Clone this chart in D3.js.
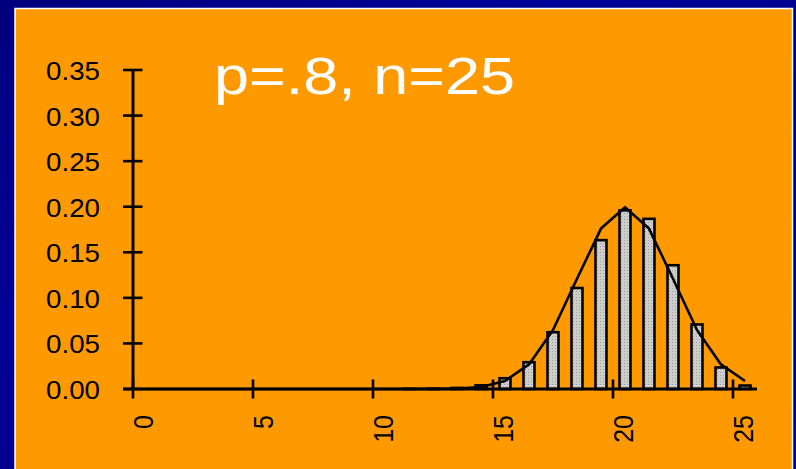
<!DOCTYPE html>
<html>
<head>
<meta charset="utf-8">
<script src="https://cdn.jsdelivr.net/npm/d3@7"></script>
<style>
  html, body { margin: 0; padding: 0; background: #000090; }
  svg { display: block; }
</style>
</head>
<body>
<svg id="chart" width="796" height="469"></svg>
<script>
// Binomial distribution, p = .8, n = 25, with its normal approximation
const successes = d3.range(0, 26);
const binomialProb = [0, 0, 0, 0, 0, 0, 0, 0, 0, 0, 0, 0.0001, 0.0003, 0.0012, 0.0040,
  0.0118, 0.0294, 0.0623, 0.1108, 0.1633, 0.1960, 0.1867, 0.1358, 0.0708, 0.0236, 0.0038];
const normalCurve = [0, 0, 0, 0, 0, 0, 0, 0, 0, 0, 0, 0, 0.0001, 0.0004, 0.0022,
  0.0088, 0.0270, 0.0648, 0.1210, 0.1760, 0.1995, 0.1760, 0.1210, 0.0648, 0.0270, 0.0088];
const yTicks = [0, 0.05, 0.10, 0.15, 0.20, 0.25, 0.30, 0.35];
const xTicks = [0, 5, 10, 15, 20, 25];
const titleText = "p=.8, n=25";

const svg = d3.select("#chart");
const W = 796, H = 469;
const FONT = "'Liberation Sans', Arial, sans-serif";

// Slide background: deep blue with soft diagonal shading
const defs = svg.append("defs");
const bg = defs.append("linearGradient").attr("id", "bg")
  .attr("x1", "0").attr("y1", "0").attr("x2", "1").attr("y2", "1");
bg.append("stop").attr("offset", "0").attr("stop-color", "#00007e");
bg.append("stop").attr("offset", "0.35").attr("stop-color", "#000098");
bg.append("stop").attr("offset", "0.6").attr("stop-color", "#00008c");
bg.append("stop").attr("offset", "1").attr("stop-color", "#00009c");
svg.append("rect").attr("width", W).attr("height", H).attr("fill", "url(#bg)");

// Stippled grey fill for the bars
const pat = defs.append("pattern").attr("id", "stipple")
  .attr("width", 3).attr("height", 3).attr("patternUnits", "userSpaceOnUse");
pat.append("rect").attr("width", 3).attr("height", 3).attr("fill", "#d2d2d2");
pat.append("rect").attr("x", 0).attr("y", 0).attr("width", 1).attr("height", 1).attr("fill", "#9a9a9a");
pat.append("rect").attr("x", 1.5).attr("y", 1.5).attr("width", 1).attr("height", 1).attr("fill", "#b4b4b4");

// Orange panel
svg.append("rect").attr("x", 15).attr("y", 8.5).attr("width", 777.5).attr("height", 470)
  .attr("fill", "#ff9900").attr("stroke", "#ffffff").attr("stroke-width", 1.5);

// Scales
const x = d3.scaleLinear().domain([0, 26]).range([133, 757]);
const y = d3.scaleLinear().domain([0, 0.35]).range([389, 70]);
const barW = 11;

// Title
svg.append("text")
  .attr("x", 214).attr("y", 93.5)
  .attr("font-family", FONT).attr("font-size", 51).attr("fill", "#ffffff")
  .attr("textLength", 301).attr("lengthAdjust", "spacingAndGlyphs")
  .text(titleText);

// Bars
svg.append("g").selectAll("rect").data(successes).join("rect")
  .attr("x", d => x(d + 0.5) - barW / 2)
  .attr("y", (d, i) => y(binomialProb[i]))
  .attr("width", barW)
  .attr("height", (d, i) => y(0) - y(binomialProb[i]))
  .attr("fill", "url(#stipple)")
  .attr("stroke", "#000").attr("stroke-width", 2.6);

// Normal approximation curve
const line = d3.line().x(d => x(d + 0.5)).y((d, i) => y(normalCurve[i]));
svg.append("path").datum(successes).attr("d", line)
  .attr("fill", "none").attr("stroke", "#000").attr("stroke-width", 2.6)
  .attr("stroke-linejoin", "round");

// Y axis
const yAxis = svg.append("g");
yAxis.append("line").attr("x1", x(0)).attr("x2", x(0)).attr("y1", y(0.35)).attr("y2", y(0))
  .attr("stroke", "#000").attr("stroke-width", 3);
yAxis.selectAll("line.tick").data(yTicks).join("line").attr("class", "tick")
  .attr("x1", x(0) - 10).attr("x2", x(0) + 9.5).attr("y1", d => y(d)).attr("y2", d => y(d))
  .attr("stroke", "#000").attr("stroke-width", 2.6);
yAxis.selectAll("text").data(yTicks).join("text")
  .attr("x", 100).attr("y", d => y(d) + 1)
  .attr("text-anchor", "end").attr("dominant-baseline", "central")
  .attr("font-family", FONT).attr("font-size", 25.5).attr("fill", "#000")
  .attr("textLength", 54).attr("lengthAdjust", "spacingAndGlyphs")
  .text(d => d3.format(".2f")(d));

// X axis
const xAxis = svg.append("g");
xAxis.append("line").attr("x1", x(0) - 10).attr("x2", x(26)).attr("y1", y(0)).attr("y2", y(0))
  .attr("stroke", "#000").attr("stroke-width", 3);
xAxis.selectAll("line.tick").data(xTicks).join("line").attr("class", "tick")
  .attr("x1", d => x(d)).attr("x2", d => x(d)).attr("y1", y(0) - 9.5).attr("y2", y(0) + 9.5)
  .attr("stroke", "#000").attr("stroke-width", 2.6);
xAxis.selectAll("text").data(xTicks).join("text")
  .attr("transform", d => `translate(${x(d) + 20},415) rotate(-90) scale(1,1.14)`)
  .attr("text-anchor", "end")
  .attr("font-family", FONT).attr("font-size", 25).attr("fill", "#000")
  .text(d => d);
</script>
</body>
</html>
